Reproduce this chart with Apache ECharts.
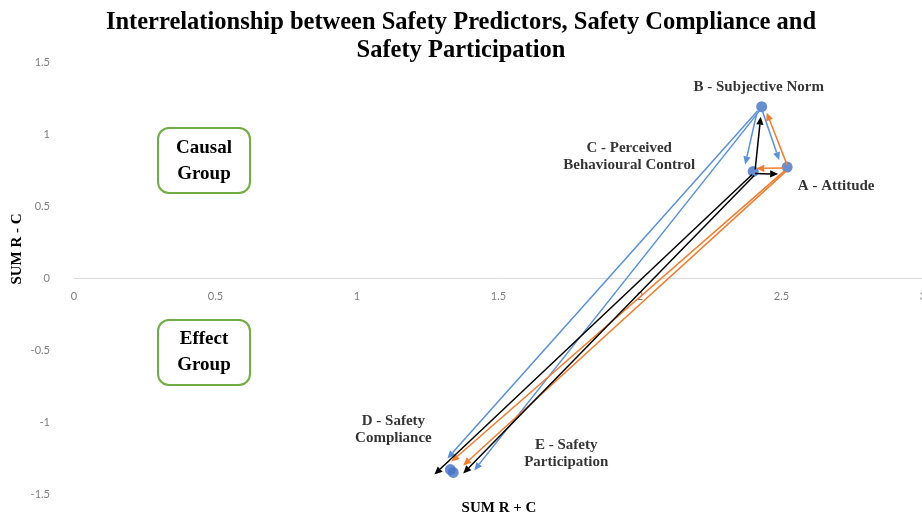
<!DOCTYPE html>
<html>
<head>
<meta charset="utf-8">
<script src="https://cdn.jsdelivr.net/npm/echarts@6/dist/echarts.min.js"></script>
<style>html,body{margin:0;padding:0;background:#fff;}#c{width:922px;height:517px;}</style>
</head>
<body>
<div id="c"></div>
<script>
// ---- data ----
const pointNames = ['A - Attitude', 'B - Subjective Norm', 'C - Perceived\nBehavioural Control', 'D - Safety\nCompliance', 'E - Safety\nParticipation'];
const pointKeys = ['A', 'B', 'C', 'D', 'E'];
const sumRplusC = [2.52, 2.43, 2.40, 1.33, 1.34];
const sumRminusC = [0.77, 1.19, 0.74, -1.33, -1.35];
const xTicks = [0, 0.5, 1, 1.5, 2, 2.5, 3];
const yTicks = [-1.5, -1, -0.5, 0, 0.5, 1, 1.5];
const arrowFrom = ['B', 'B', 'A', 'A', 'C', 'C', 'B', 'B', 'A', 'A', 'C', 'C'];
const arrowTo   = ['C', 'A', 'B', 'C', 'A', 'B', 'D', 'E', 'D', 'E', 'D', 'E'];

// ---- styling ----
const sourceColor = { A: '#ED7D31', B: '#5B8FD6', C: '#000000' };
// pixel nudges of tail / head relative to the points (hand-drawn arrows in the original)
const arrowNudge = [
  [-5, 7, -8, -7], [1, 5, -8, -7], [0, -2, 5, 6], [-3, 1, 3, -3],
  [2, 2, -9, 7], [2, -2, -1, 10], [-4, 4, -3, -11], [-2, 4, 21, -2],
  [-3, 4, 1, -8], [-1, 4, 10, -7], [-1, 3, -16, 5], [1, 4, 10, 1]
];
const labelOffset = [[49, 19], [-3, -20], [-124, -15], [-57, -40], [113, -19]];

const idx = k => pointKeys.indexOf(k);
const arrowData = arrowFrom.map((f, i) => {
  const a = idx(f), b = idx(arrowTo[i]);
  return [sumRplusC[a], sumRminusC[a], sumRplusC[b], sumRminusC[b], i];
});

const serif = 'Liberation Serif, Times New Roman, serif';
const chart = echarts.init(document.getElementById('c'));
chart.setOption({
  backgroundColor: '#ffffff',
  animation: false,
  title: {
    text: 'Interrelationship between Safety Predictors, Safety Compliance and\nSafety Participation',
    left: 'center', top: 4,
    textStyle: { fontFamily: serif, fontWeight: 'bold', fontSize: 24.5, lineHeight: 28, color: '#000' }
  },
  grid: { left: 74, top: 62, width: 849, height: 432, containLabel: false, outerBoundsMode: 'none' },
  xAxis: {
    type: 'value', min: 0, max: 3, interval: 0.5,
    offset: -216,
    axisLine: { onZero: false, lineStyle: { color: '#d9d9d9', width: 1 } },
    axisTick: { show: false },
    splitLine: { show: false },
    axisLabel: { color: '#7f7f7f', fontFamily: 'Lato, sans-serif', fontSize: 11, margin: 13,
      formatter: v => xTicks.includes(v) ? String(v) : '' }
  },
  yAxis: {
    type: 'value', min: -1.5, max: 1.5, interval: 0.5,
    axisLine: { show: false },
    axisTick: { show: false },
    splitLine: { show: false },
    axisLabel: { color: '#7f7f7f', fontFamily: 'Lato, sans-serif', fontSize: 11, margin: 24,
      formatter: v => yTicks.includes(v) ? String(v) : '' }
  },
  graphic: [
    { type: 'rect', shape: { x: 158, y: 128, width: 92, height: 65, r: 11 },
      style: { fill: '#fff', stroke: '#70AD47', lineWidth: 2 } },
    { type: 'text', x: 204, y: 161, style: { text: 'Causal\nGroup', align: 'center', verticalAlign: 'middle',
      font: 'bold 19px ' + serif, lineHeight: 26, fill: '#000' } },
    { type: 'rect', shape: { x: 158, y: 320, width: 92, height: 65, r: 11 },
      style: { fill: '#fff', stroke: '#70AD47', lineWidth: 2 } },
    { type: 'text', x: 204, y: 352, style: { text: 'Effect\nGroup', align: 'center', verticalAlign: 'middle',
      font: 'bold 19px ' + serif, lineHeight: 26, fill: '#000' } },
    { type: 'text', x: 499, y: 508, style: { text: 'SUM R + C', align: 'center', verticalAlign: 'middle',
      font: 'bold 15px ' + serif, fill: '#000' } },
    { type: 'text', x: 17, y: 249, rotation: Math.PI / 2, style: { text: 'SUM R - C', align: 'center', verticalAlign: 'middle',
      font: 'bold 15px ' + serif, fill: '#000' } }
  ],
  series: [
    {
      type: 'scatter', z: 2,
      symbol: 'circle', symbolSize: 11,
      itemStyle: { color: '#4472C4' },
      data: pointKeys.map((k, i) => ({
        value: [sumRplusC[i], sumRminusC[i]],
        label: { show: true, formatter: pointNames[i], position: 'inside', offset: labelOffset[i],
          fontFamily: serif, fontWeight: 'bold', fontSize: 15, lineHeight: 17, color: '#000', align: 'center' }
      }))
    },
    {
      type: 'custom', z: 3,
      encode: { x: [0, 2], y: [1, 3] },
      data: arrowData,
      renderItem: function (params, api) {
        const i = api.value(4);
        const n = arrowNudge[i];
        const p1 = api.coord([api.value(0), api.value(1)]);
        const p2 = api.coord([api.value(2), api.value(3)]);
        const x1 = p1[0] + n[0], y1 = p1[1] + n[1];
        const x2 = p2[0] + n[2], y2 = p2[1] + n[3];
        const dx = x2 - x1, dy = y2 - y1, L = Math.sqrt(dx * dx + dy * dy);
        const ux = dx / L, uy = dy / L;
        const hl = 8, hw = 3.6;
        const bx = x2 - ux * hl, by = y2 - uy * hl;
        const col = sourceColor[arrowFrom[i]];
        return {
          type: 'group',
          children: [
            { type: 'line', shape: { x1: x1, y1: y1, x2: bx, y2: by },
              style: { stroke: col, lineWidth: 1.5 } },
            { type: 'polygon', shape: { points: [[x2, y2], [bx - uy * hw, by + ux * hw], [bx + uy * hw, by - ux * hw]] },
              style: { fill: col } }
          ]
        };
      }
    }
  ]
});
</script>
</body>
</html>
